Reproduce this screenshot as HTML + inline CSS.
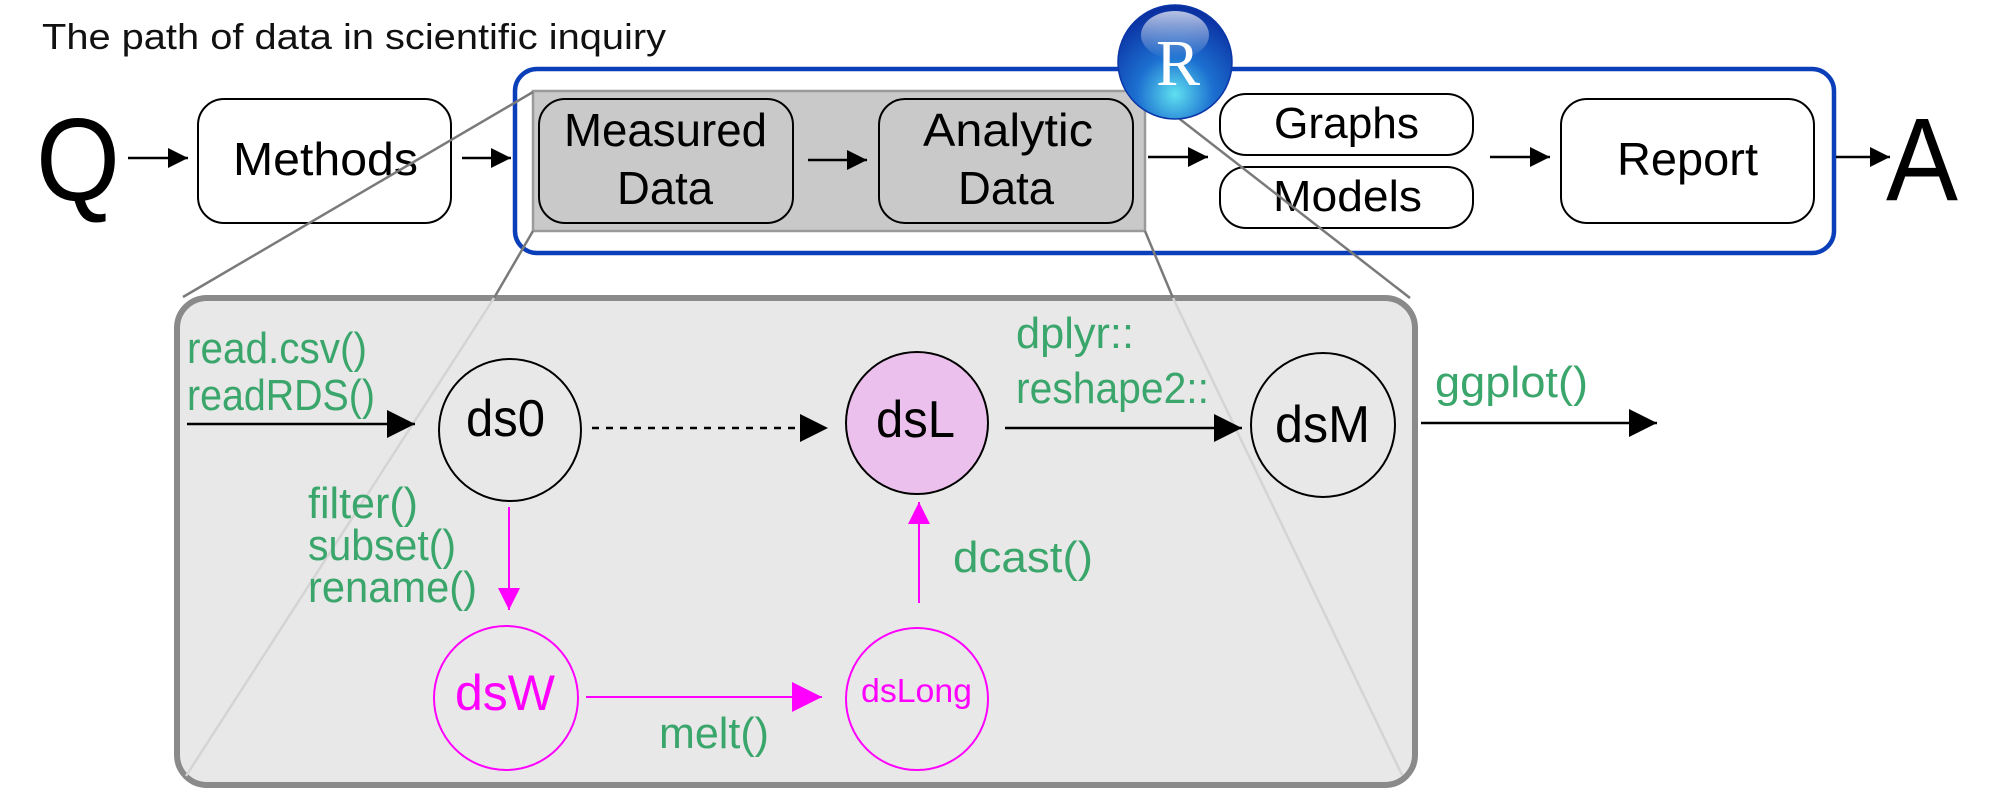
<!DOCTYPE html>
<html><head><meta charset="utf-8"><style>
html,body{margin:0;padding:0;background:#fff;}
svg{display:block;}
text{font-family:"Liberation Sans",sans-serif;}
.g{fill:#3aa66b;font-size:44px;}
</style></head><body>
<svg width="2000" height="796" viewBox="0 0 2000 796" xmlns="http://www.w3.org/2000/svg">
<defs>
<marker id="ab" viewBox="0 0 10 10" refX="10" refY="5" markerWidth="20" markerHeight="20" markerUnits="userSpaceOnUse" orient="auto"><path d="M0,0 L10,5 L0,10 z" fill="#000"/></marker>
<marker id="abL" viewBox="0 0 10 10" refX="10" refY="5" markerWidth="28" markerHeight="28" markerUnits="userSpaceOnUse" orient="auto"><path d="M0,0 L10,5 L0,10 z" fill="#000"/></marker>
<marker id="am" viewBox="0 0 10 10" refX="10" refY="5" markerWidth="22" markerHeight="22" markerUnits="userSpaceOnUse" orient="auto"><path d="M0,0 L10,5 L0,10 z" fill="#ff00ff"/></marker>
<marker id="amL" viewBox="0 0 10 10" refX="10" refY="5" markerWidth="30" markerHeight="30" markerUnits="userSpaceOnUse" orient="auto"><path d="M0,0 L10,5 L0,10 z" fill="#ff00ff"/></marker>
<radialGradient id="rg" cx="0.5" cy="0.78" r="0.75">
<stop offset="0" stop-color="#5fe0f0"/><stop offset="0.45" stop-color="#1c6fd0"/><stop offset="1" stop-color="#0a2fa0"/>
</radialGradient>
<linearGradient id="hl" x1="0" y1="0" x2="0" y2="1"><stop offset="0" stop-color="#fff" stop-opacity="0.7"/><stop offset="1" stop-color="#fff" stop-opacity="0"/></linearGradient>
</defs>

<!-- title -->
<text x="42" y="49" font-size="36" textLength="624" lengthAdjust="spacingAndGlyphs" fill="#111">The path of data in scientific inquiry</text>

<!-- lower panel -->
<rect x="177" y="298" width="1238" height="487" rx="30" fill="#e8e8e8" stroke="#8a8a8a" stroke-width="6"/>

<!-- Q -->
<text x="36" y="200" font-size="118" textLength="84" lengthAdjust="spacingAndGlyphs">Q</text>
<line x1="128" y1="158" x2="188" y2="158" stroke="#000" stroke-width="2.5" marker-end="url(#ab)"/>

<rect x="198" y="99" width="253" height="124" rx="26" fill="#fff" stroke="#000" stroke-width="2"/>
<text x="233" y="175" font-size="46" textLength="185" lengthAdjust="spacingAndGlyphs">Methods</text>
<line x1="462" y1="158" x2="511" y2="158" stroke="#000" stroke-width="2.5" marker-end="url(#ab)"/>

<!-- blue box -->
<rect x="515" y="69" width="1319" height="184" rx="22" fill="#fff" stroke="#0b3fba" stroke-width="4.5"/>

<!-- gray box -->
<rect x="533" y="91" width="612" height="140" fill="#c9c9c9" stroke="#9a9a9a" stroke-width="2.5"/>
<rect x="539" y="99" width="254" height="124" rx="26" fill="#c9c9c9" stroke="#000" stroke-width="2"/>
<text x="564" y="146" font-size="46" textLength="203" lengthAdjust="spacingAndGlyphs">Measured</text>
<text x="617" y="204" font-size="46" textLength="96" lengthAdjust="spacingAndGlyphs">Data</text>
<line x1="808" y1="160" x2="867" y2="160" stroke="#000" stroke-width="2.5" marker-end="url(#ab)"/>
<rect x="879" y="99" width="254" height="124" rx="26" fill="#c9c9c9" stroke="#000" stroke-width="2"/>
<text x="923" y="146" font-size="46" textLength="170" lengthAdjust="spacingAndGlyphs">Analytic</text>
<text x="958" y="204" font-size="46" textLength="96" lengthAdjust="spacingAndGlyphs">Data</text>

<line x1="1148" y1="157" x2="1208" y2="157" stroke="#000" stroke-width="2.5" marker-end="url(#ab)"/>
<rect x="1220" y="94" width="253" height="61" rx="26" fill="#fff" stroke="#000" stroke-width="2"/>
<text x="1274" y="138" font-size="44" textLength="145" lengthAdjust="spacingAndGlyphs">Graphs</text>
<rect x="1220" y="167" width="253" height="61" rx="26" fill="#fff" stroke="#000" stroke-width="2"/>
<text x="1273" y="211" font-size="44" textLength="149" lengthAdjust="spacingAndGlyphs">Models</text>
<line x1="1490" y1="157" x2="1550" y2="157" stroke="#000" stroke-width="2.5" marker-end="url(#ab)"/>
<rect x="1561" y="99" width="253" height="124" rx="26" fill="#fff" stroke="#000" stroke-width="2"/>
<text x="1617" y="175" font-size="46" textLength="141" lengthAdjust="spacingAndGlyphs">Report</text>
<line x1="1836" y1="157" x2="1890" y2="157" stroke="#000" stroke-width="2.5" marker-end="url(#ab)"/>
<text x="1886" y="200" font-size="118" textLength="72" lengthAdjust="spacingAndGlyphs">A</text>

<!-- zoom connector lines -->
<line x1="533" y1="92" x2="183" y2="297" stroke="#7a7a7a" stroke-width="2.5"/>
<line x1="533" y1="231" x2="494" y2="298" stroke="#7a7a7a" stroke-width="2.5"/>
<line x1="494" y1="298" x2="186" y2="776" stroke="#d4d4d4" stroke-width="2.5"/>
<line x1="1145" y1="92" x2="1410" y2="298" stroke="#7a7a7a" stroke-width="2.5"/>
<line x1="1145" y1="231" x2="1173" y2="298" stroke="#7a7a7a" stroke-width="2.5"/>
<line x1="1173" y1="298" x2="1402" y2="775" stroke="#d4d4d4" stroke-width="2.5"/>

<!-- R logo -->
<circle cx="1175" cy="62" r="57" fill="url(#rg)" stroke="#0a36a8" stroke-width="1.5"/>
<ellipse cx="1175" cy="35" rx="34" ry="24" fill="url(#hl)"/>
<text x="1178" y="85" font-size="66" text-anchor="middle" fill="#fff" style="font-family:'Liberation Serif',serif">R</text>

<!-- lower diagram -->
<text class="g" x="187" y="363" textLength="180" lengthAdjust="spacingAndGlyphs">read.csv()</text>
<text class="g" x="187" y="410" textLength="188" lengthAdjust="spacingAndGlyphs">readRDS()</text>
<line x1="187" y1="424" x2="415" y2="424" stroke="#000" stroke-width="2.5" marker-end="url(#abL)"/>

<circle cx="510" cy="430" r="71" fill="none" stroke="#000" stroke-width="2"/>
<text x="466" y="436" font-size="52" textLength="79" lengthAdjust="spacingAndGlyphs">ds0</text>
<line x1="592" y1="428" x2="828" y2="428" stroke="#000" stroke-width="2.5" stroke-dasharray="7,7" marker-end="url(#abL)"/>

<circle cx="917" cy="423" r="71" fill="#ecc0ec" stroke="#000" stroke-width="2"/>
<text x="876" y="437" font-size="52" textLength="79" lengthAdjust="spacingAndGlyphs">dsL</text>

<text class="g" x="1016" y="348" textLength="118" lengthAdjust="spacingAndGlyphs">dplyr::</text>
<text class="g" x="1016" y="403" textLength="193" lengthAdjust="spacingAndGlyphs">reshape2::</text>
<line x1="1005" y1="428" x2="1242" y2="428" stroke="#000" stroke-width="2.5" marker-end="url(#abL)"/>

<circle cx="1323" cy="425" r="72" fill="none" stroke="#000" stroke-width="2"/>
<text x="1275" y="442" font-size="52" textLength="95" lengthAdjust="spacingAndGlyphs">dsM</text>

<text class="g" x="1435" y="397" textLength="153" lengthAdjust="spacingAndGlyphs">ggplot()</text>
<line x1="1421" y1="423" x2="1657" y2="423" stroke="#000" stroke-width="2.5" marker-end="url(#abL)"/>

<text class="g" x="308" y="518" textLength="110" lengthAdjust="spacingAndGlyphs">filter()</text>
<text class="g" x="308" y="560" textLength="148" lengthAdjust="spacingAndGlyphs">subset()</text>
<text class="g" x="308" y="602" textLength="169" lengthAdjust="spacingAndGlyphs">rename()</text>
<line x1="509" y1="507" x2="509" y2="610" stroke="#ff00ff" stroke-width="2" marker-end="url(#am)"/>

<circle cx="506" cy="698" r="72" fill="none" stroke="#ff00ff" stroke-width="2"/>
<text x="455" y="710" font-size="50" fill="#ff00ff" textLength="100" lengthAdjust="spacingAndGlyphs">dsW</text>
<line x1="586" y1="697" x2="822" y2="697" stroke="#ff00ff" stroke-width="2" marker-end="url(#amL)"/>
<text class="g" x="659" y="748" textLength="110" lengthAdjust="spacingAndGlyphs">melt()</text>

<circle cx="917" cy="699" r="71" fill="none" stroke="#ff00ff" stroke-width="2"/>
<text x="861" y="702" font-size="33" fill="#ff00ff" textLength="111" lengthAdjust="spacingAndGlyphs">dsLong</text>
<line x1="919" y1="603" x2="919" y2="502" stroke="#ff00ff" stroke-width="2" marker-end="url(#am)"/>
<text class="g" x="953" y="572" textLength="140" lengthAdjust="spacingAndGlyphs">dcast()</text>
</svg>
</body></html>
